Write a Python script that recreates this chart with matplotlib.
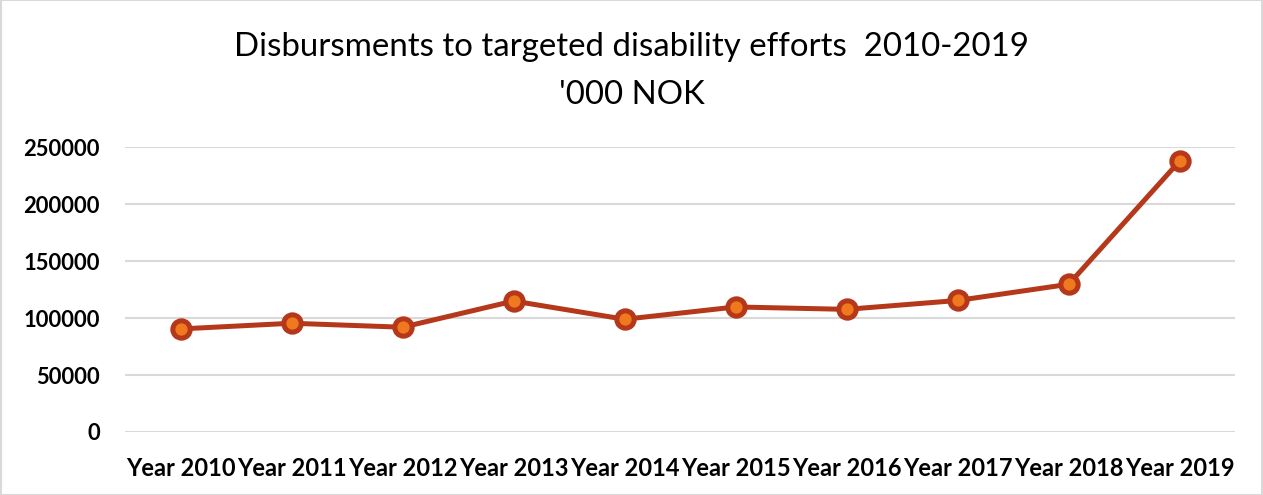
#!/usr/bin/env python3
# -*- coding: utf-8 -*-

import matplotlib
matplotlib.use("Agg")
import matplotlib.pyplot as plt
from matplotlib.patches import Rectangle

# Disbursements, '000 NOK
years = ["Year 2010", "Year 2011", "Year 2012", "Year 2013", "Year 2014",
         "Year 2015", "Year 2016", "Year 2017", "Year 2018", "Year 2019"]
disbursements = [90500, 95500, 92000, 115000, 99000,
                 109800, 107700, 115500, 129700, 238000]
y_ticks = [0, 50000, 100000, 150000, 200000, 250000]

LINE = "#B5381A"
FILL = "#F0781E"
GRID = "#D9D9D9"

plt.rcParams["font.family"] = ["Lato", "DejaVu Sans"]

fig = plt.figure(figsize=(12.63, 4.95), dpi=100)
ax = fig.add_axes([0.099, 0.1273, 0.879, 0.5751])

x = list(range(len(years)))
ax.plot(x, disbursements, color=LINE, linewidth=3.6, marker="o",
        markersize=12.5, markerfacecolor=FILL, markeredgecolor=LINE,
        markeredgewidth=3.6, solid_capstyle="round", zorder=3)

ax.set_xlim(-0.5, len(years) - 0.5)
ax.set_ylim(0, 250000)
ax.set_xticks(x)
ax.set_xticklabels(years)
ax.set_yticks(y_ticks)
ax.set_yticklabels([str(v) for v in y_ticks])
ax.yaxis.grid(True, color=GRID, linewidth=1.5)
ax.set_axisbelow(True)
for s in ax.spines.values():
    s.set_visible(False)
ax.tick_params(axis="both", length=0, colors="black")
ax.tick_params(axis="y", pad=18, labelsize=15.8)
ax.tick_params(axis="x", pad=18, labelsize=17)
for lbl in ax.get_xticklabels() + ax.get_yticklabels():
    lbl.set_fontweight("bold")

fig.text(0.5, 0.905, "Disbursments to targeted disability efforts  2010-2019",
         ha="center", va="center", fontsize=23.8, color="black")
fig.text(0.5, 0.808, "'000 NOK", ha="center", va="center",
         fontsize=23.8, color="black")

# thin frame round the chart area
fig.patches.append(Rectangle((0.001, 0.001), 0.998, 0.998, transform=fig.transFigure,
                             fill=False, edgecolor=GRID, linewidth=1.5))

fig.savefig("out.png", dpi=100)
